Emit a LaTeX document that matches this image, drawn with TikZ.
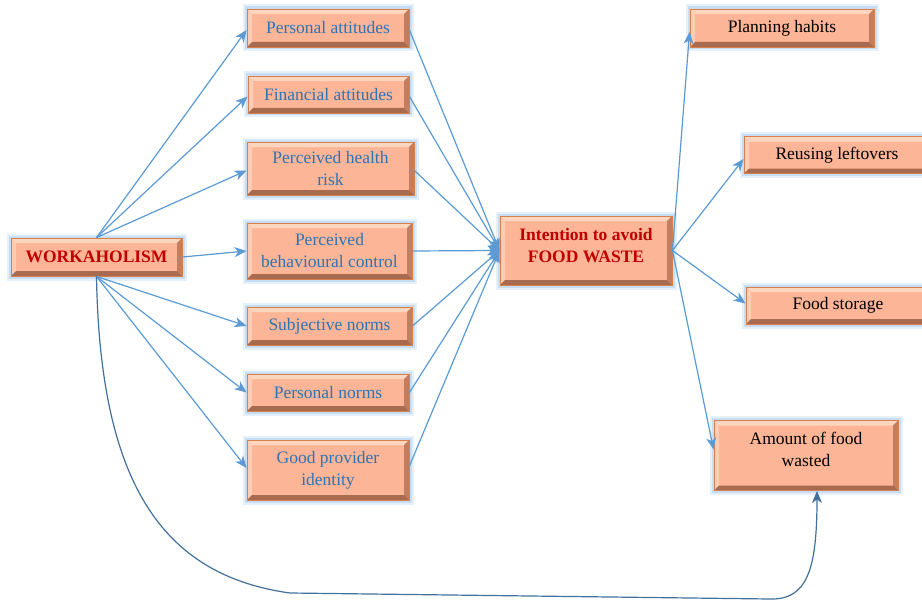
\documentclass[tikz,border=0pt]{standalone}
\usepackage{fontspec}
\setmainfont{Liberation Serif}
\usetikzlibrary{arrows.meta}
\definecolor{boxfill}{HTML}{FCB596}
\definecolor{boxedge}{HTML}{D9804A}
\definecolor{bvlight}{HTML}{FDD6C0}
\definecolor{bvdark}{HTML}{A86B4F}
\definecolor{bvright}{HTML}{C27E5E}
\definecolor{glowc}{HTML}{C6DEF5}
\definecolor{arrc}{HTML}{5B9BD5}
\definecolor{curvec}{HTML}{41719C}
\definecolor{bluetxt}{HTML}{2E74B5}
\definecolor{redtxt}{HTML}{C00000}
\tikzset{
  box/.style={rectangle, draw=boxedge, line width=0.9pt, fill=boxfill, inner sep=1pt,
    align=center, font=\rmfamily\fontsize{17.5}{22}\selectfont,
    preaction={draw=glowc!45, line width=9pt},
    preaction={draw=glowc, line width=5pt},
    path picture={
      \coordinate (bvnw) at (path picture bounding box.north west);
      \coordinate (bvne) at (path picture bounding box.north east);
      \coordinate (bvsw) at (path picture bounding box.south west);
      \coordinate (bvse) at (path picture bounding box.south east);
      \fill[bvlight] (bvnw) -- (bvne) -- ([shift={(-5pt,-5pt)}]bvne) -- ([shift={(5pt,-5pt)}]bvnw) -- cycle;
      \fill[bvlight!70!boxfill] (bvnw) -- (bvsw) -- ([shift={(5pt,5pt)}]bvsw) -- ([shift={(5pt,-5pt)}]bvnw) -- cycle;
      \fill[bvright] (bvne) -- (bvse) -- ([shift={(-5pt,5pt)}]bvse) -- ([shift={(-5pt,-5pt)}]bvne) -- cycle;
      \fill[bvdark] (bvsw) -- (bvse) -- ([shift={(-5pt,5pt)}]bvse) -- ([shift={(5pt,5pt)}]bvsw) -- cycle;
    }},
  bluebox/.style={box, text=bluetxt},
  redbox/.style={box, text=redtxt, font=\rmfamily\fontsize{17.5}{22}\selectfont\bfseries},
  blackbox/.style={box, text=black},
  arr/.style={draw=arrc, line width=1.2pt, -{Stealth[length=12pt, width=10pt, inset=3.5pt]}},
  curvearr/.style={draw=curvec, line width=1.2pt, -{Stealth[length=12pt, width=10pt, inset=3.5pt]}}
}
\begin{document}
\begin{tikzpicture}[x=1pt, y=-1pt]
\useasboundingbox (0,0) rectangle (922,602);
\fill[white] (0,0) rectangle (922,602);

% nodes
\node[redbox, minimum width=171pt, minimum height=38pt] (work) at (96.5,257) {WORKAHOLISM};
\node[bluebox, minimum width=162pt, minimum height=38pt] (pa) at (328,28) {Personal attitudes};
\node[bluebox, minimum width=161pt, minimum height=37pt] (fa) at (328.5,94.5) {Financial attitudes};
\node[bluebox, minimum width=167pt, minimum height=53pt] (phr) at (330.5,168.5) {Perceived health\\risk};
\node[bluebox, minimum width=165pt, minimum height=56pt] (pbc) at (329.5,251) {Perceived\\behavioural control};
\node[bluebox, minimum width=165pt, minimum height=38pt] (sn) at (329.5,326) {Subjective norms};
\node[bluebox, minimum width=162pt, minimum height=37pt] (pn) at (328,392.5) {Personal norms};
\node[bluebox, minimum width=162pt, minimum height=60pt] (gpi) at (328,470) {Good provider\\identity};
\node[redbox, minimum width=172pt, minimum height=69pt] (int) at (586,250.5) {Intention to avoid\\FOOD WASTE\\[-11pt]\mbox{}};
\node[blackbox, minimum width=184pt, minimum height=38pt] (ph) at (782,28) {Planning habits};
\node[blackbox, minimum width=186pt, minimum height=37pt] (rl) at (837,155) {Reusing leftovers};
\node[blackbox, minimum width=184pt, minimum height=37pt] (fs) at (838,305.5) {Food storage};
\node[blackbox, minimum width=184pt, minimum height=70pt] (afw) at (806,455.5) {Amount of food\\wasted\\[-10pt]\mbox{}};

% workaholism -> antecedents
\draw[arr] (work.north) -- ([yshift=-2pt]pa.west);
\draw[arr] (work.north) -- ([yshift=-2pt]fa.west);
\draw[arr] (work.north) -- ([yshift=-2pt]phr.west);
\draw[arr] (work.east) -- (pbc.west);
\draw[arr] (work.south) -- (sn.west);
\draw[arr] (work.south) -- (pn.west);
\draw[arr] (work.south) -- ([yshift=2pt]gpi.west);

% antecedents -> intention
\draw[arr] ([yshift=-2pt]pa.east) -- (int.west);
\draw[arr] ([yshift=-2pt]fa.east) -- (int.west);
\draw[arr] ([yshift=-2pt]phr.east) -- (int.west);
\draw[arr] (pbc.east) -- (int.west);
\draw[arr] (sn.east) -- (int.west);
\draw[arr] (pn.east) -- (int.west);
\draw[arr] ([yshift=4pt]gpi.east) -- (int.west);

% intention -> behaviours
\draw[arr] (int.east) -- ([yshift=-4pt]ph.west);
\draw[arr] (int.east) -- ([yshift=-4pt]rl.west);
\draw[arr] (int.east) -- ([yshift=2pt]fs.west);
\draw[arr] (int.east) -- ([yshift=6pt]afw.west);

% workaholism -> amount wasted
\draw[curvearr] (work.south) .. controls (100,480) and (160,575) .. (290,593)
  -- (770,599) .. controls (807,600) and (817,570) .. ([xshift=11pt]afw.south);
\end{tikzpicture}
\end{document}
